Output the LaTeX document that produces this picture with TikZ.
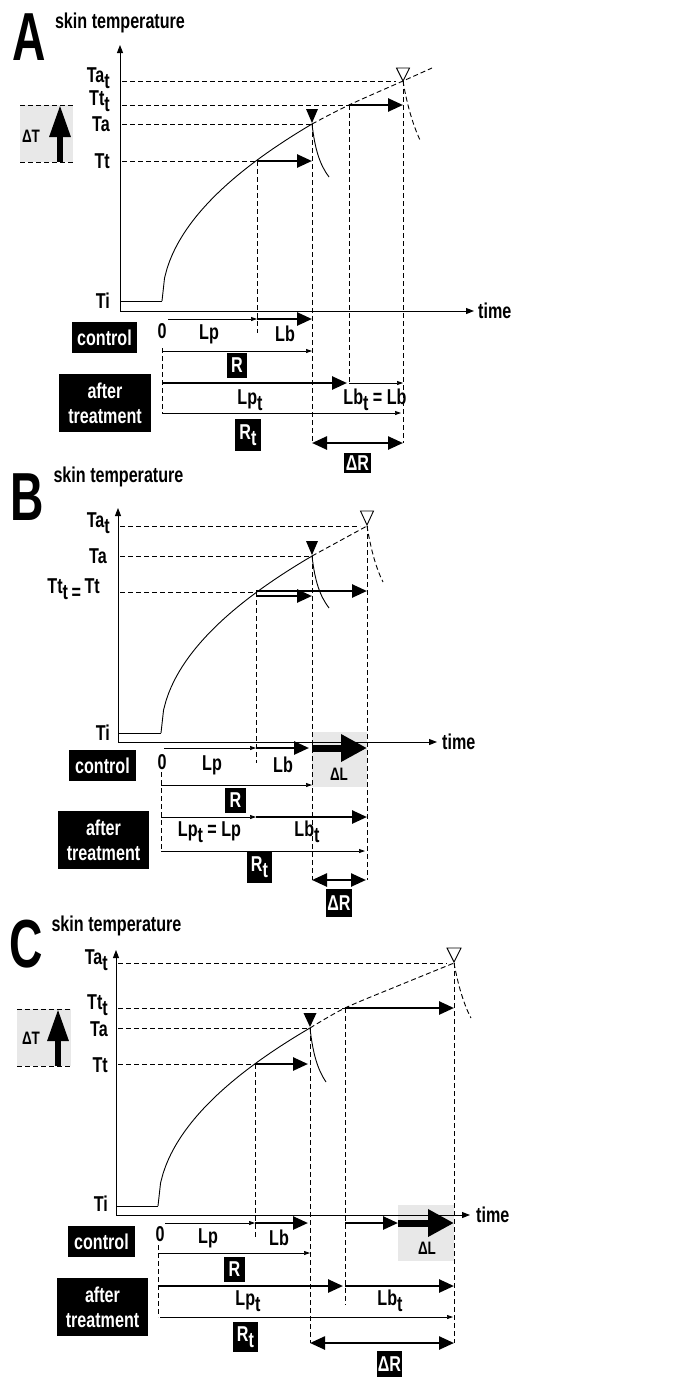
\documentclass[tikz,border=0pt]{standalone}
\usepackage{fontspec}
\setmainfont{Liberation Sans}[FakeStretch=0.75]
\newfontfamily\panelfont{Liberation Sans}[FakeStretch=0.68]
\usetikzlibrary{arrows.meta}
\newcommand{\tsub}{\raisebox{-6pt}{t}}
\newcommand{\labsize}{\fontsize{21.5}{25}\selectfont\bfseries}

\begin{document}
\begin{tikzpicture}[
  x=1pt, y=-1pt,
  lab/.style={font=\labsize, inner sep=0pt},
  small/.style={font=\fontsize{18}{20}\selectfont\bfseries, inner sep=0pt},
  panel/.style={font=\panelfont\fontsize{68}{68}\selectfont\bfseries, inner sep=0pt},
  blackbox/.style={fill=black, text=white, font=\labsize, align=center, inner sep=0pt},
  greybox/.style={fill=black!9},
  guide/.style={line width=0.9pt, dash pattern=on 5pt off 3pt},
  axis/.style={line width=1pt, {Triangle[length=8pt,width=6pt]}-{Triangle[length=8pt,width=6pt]}},
  curve/.style={line width=0.9pt},
  thinarr/.style={line width=0.7pt, -{Triangle[length=6pt,width=4pt]}},
  boldarr/.style={line width=2.6pt, -{Triangle[length=15pt,width=13pt]}},
  bigarr/.style={line width=7pt, -{Triangle[length=26pt,width=26pt]}},
  uparr/.style={line width=6pt, -{Triangle[length=32pt,width=20pt]}},
  dblarr/.style={line width=2.5pt, {Triangle[length=15pt,width=13pt]}-{Triangle[length=15pt,width=13pt]}},
  opentip/.style={fill=white, draw=black, line width=0.9pt}
]
\useasboundingbox (0,0) rectangle (682,1377);

% ---------------- panel A ----------------
\fill[greybox] (20,105) rectangle (73,162);
\node[panel] (letA) at (29.5,37.5) {A};
\node[lab] (skinA) at (120,23) {skin temperature};
\draw[axis] (120,45) -- (120,311) -- (474,311);
\node[lab, anchor=west] (timeA) at (478,311) {time};
\node[lab, anchor=base east] (TatA) at (110,82) {Ta\tsub};
\node[lab, anchor=base east] (TttA) at (110,105) {Tt\tsub};
\node[lab, anchor=east] (TaA) at (110,124) {Ta};
\node[lab, anchor=east] (TtA) at (110,161) {Tt};
\node[lab, anchor=east] (TiA) at (110,301) {Ti};
% delta T
\draw[guide] (20,105) -- (73,105) (20,162) -- (73,162);
\draw[uparr] (60,162) -- (60,105);
\node[small] (dTA) at (31,136) {ΔT};
% curve
\draw[curve] (120,301) -- (162,301);
\draw[curve] plot[domain=0:150, samples=60] ({162+\x},{301-14.45*sqrt(\x)});
\draw[curve, guide] plot[smooth] coordinates {(312,124) (349,105) (403,81) (432,68)};
\draw[curve] (312,124) .. controls (315,150) and (320,165) .. (329,177);
\draw[curve, guide] (403,81) .. controls (407,105) and (413,125) .. (420,140);
\fill (312,123) -- (306,109) -- (318,109) -- cycle;
\draw[opentip] (403,81) -- (396.5,68) -- (409.5,68) -- cycle;
% guides
\draw[guide] (122,81) -- (396,81);
\draw[guide] (122,105) -- (349,105);
\draw[guide] (122,124) -- (312,124);
\draw[guide] (122,161) -- (257,161);
\draw[guide] (257,161) -- (257,333);
\draw[guide] (312,124) -- (312,443);
\draw[guide] (349,105) -- (349,383);
\draw[guide] (403,81) -- (403,443);
\draw[guide] (162,348) -- (162,413);
\draw[boldarr] (257,161) -- (312,161);
\draw[boldarr] (349,105) -- (403,105);
% control
\node[blackbox, minimum width=65pt, minimum height=31pt] (ctrlA) at (104.5,337.5) {control};
\node[lab] (zeroA) at (162,331) {0};
\draw[thinarr] (168,319) -- (257,319);
\draw[boldarr] (257,319) -- (312,319);
\node[lab] (LpA) at (209,334) {Lp};
\node[lab] (LbA) at (285,334) {Lb};
\draw[thinarr] (162,351) -- (312,351);
\node[blackbox, minimum width=20pt, minimum height=25pt] (RA) at (237,365.5) {R};
% after treatment
\node[blackbox, minimum width=92pt, minimum height=58pt] (afterA) at (105,403) {after\\treatment};
\draw[boldarr] (162,383) -- (347,383);
\draw[thinarr] (349,383) -- (403,383);
\node[lab] (LptA) at (250,400) {Lp\tsub};
\node[lab] (LbtA) at (375,400) {Lb\tsub{} = Lb};
\draw[thinarr] (162,413) -- (401,413);
\node[blackbox, minimum width=26pt, minimum height=32pt] (RtA) at (248,435) {R\tsub};
\draw[dblarr] (312,443) -- (403,443);
\node[blackbox, minimum width=27pt, minimum height=20pt] (dRA) at (357.5,463) {ΔR};

% ---------------- panel B ----------------
\fill[greybox] (312,732) rectangle (367,787);
\node[panel] (letB) at (27.5,497.5) {B};
\node[lab] (skinB) at (118.5,477) {skin temperature};
\draw[axis] (118,508) -- (118,742) -- (437,742);
\node[lab, anchor=west] (timeB) at (442,742) {time};
\node[lab, anchor=base east] (TatB) at (110,527) {Ta\tsub};
\node[lab, anchor=east] (TaB) at (107,556) {Ta};
\node[lab, anchor=base east] (TttB) at (100,593) {Tt\raisebox{-6pt}{t\,=}\,Tt};
\node[lab, anchor=east] (TiB) at (110,733) {Ti};
% curve
\draw[curve] (118,733) -- (161,733);
\draw[curve] plot[domain=0:151, samples=60] ({161+\x},{733-14.4*sqrt(\x)});
\draw[curve, guide] (312,556) -- (367,526);
\draw[curve] (312,556) .. controls (315,582) and (320,596) .. (329,608);
\draw[curve, guide] (367,526) .. controls (371,550) and (376,568) .. (383,582);
\fill (312,555) -- (306,541) -- (318,541) -- cycle;
\draw[opentip] (367,525) -- (360.5,511) -- (373.5,511) -- cycle;
% guides
\draw[guide] (120,526) -- (360,526);
\draw[guide] (120,556) -- (312,556);
\draw[guide] (120,592) -- (256,592);
\draw[guide] (256,592) -- (256,763);
\draw[guide] (312,556) -- (312,880);
\draw[guide] (367,526) -- (367,880);
\draw[guide] (161,772) -- (161,851);
\draw[boldarr] (256,596) -- (312,596);
\draw[boldarr] (256,591) -- (367,591);
% control
\node[blackbox, minimum width=67pt, minimum height=31pt] (ctrlB) at (102.5,765.5) {control};
\node[lab] (zeroB) at (162,762) {0};
\draw[thinarr] (164,748) -- (256,748);
\draw[boldarr] (256,748) -- (309,748);
\draw[bigarr] (312,748) -- (367,748);
\node[small] (dLB) at (339,774) {ΔL};
\node[lab] (LpB) at (212,765) {Lp};
\node[lab] (LbB) at (283,765) {Lb};
\draw[thinarr] (161,785) -- (312,785);
\node[blackbox, minimum width=21pt, minimum height=25pt] (RB) at (235.5,800.5) {R};
% after treatment
\node[blackbox, minimum width=91pt, minimum height=58pt] (afterB) at (103.5,840) {after\\treatment};
\draw[thinarr] (161,817) -- (256,817);
\draw[boldarr] (256,817) -- (367,817);
\node[lab] (LptB) at (209.5,832) {Lp\tsub{} = Lp};
\node[lab] (LbtB) at (307,832) {Lb\tsub};
\draw[thinarr] (161,851) -- (365,851);
\node[blackbox, minimum width=25pt, minimum height=31pt] (RtB) at (259.5,867.5) {R\tsub};
\draw[dblarr] (312,880) -- (366,880);
\node[blackbox, minimum width=26pt, minimum height=28pt] (dRB) at (339,903) {ΔR};

% ---------------- panel C ----------------
\fill[greybox] (17,1009) rectangle (71,1066);
\fill[greybox] (398,1205) rectangle (454,1261);
\node[panel] (letC) at (26.5,944) {C};
\node[lab] (skinC) at (116.5,926) {skin temperature};
\draw[axis] (116,950) -- (116,1215) -- (470,1215);
\node[lab, anchor=west] (timeC) at (476,1215) {time};
\node[lab, anchor=base east] (TatC) at (108,964) {Ta\tsub};
\node[lab, anchor=base east] (TttC) at (108,1009) {Tt\tsub};
\node[lab, anchor=east] (TaC) at (108,1029) {Ta};
\node[lab, anchor=east] (TtC) at (108,1065) {Tt};
\node[lab, anchor=east] (TiC) at (108,1204) {Ti};
% delta T
\draw[guide] (17,1009) -- (71,1009) (17,1066) -- (71,1066);
\draw[uparr] (58,1066) -- (58,1009);
\node[small] (dTC) at (31,1038) {ΔT};
% curve
\draw[curve] (116,1206) -- (158,1206);
\draw[curve] plot[domain=0:152, samples=60] ({158+\x},{1206-14.44*sqrt(\x)});
\draw[curve, guide] plot[smooth] coordinates {(310,1028) (345,1008) (400,985) (454,963)};
\draw[curve] (310,1028) .. controls (313,1055) and (318,1070) .. (326,1082);
\draw[curve, guide] (454,963) .. controls (458,985) and (464,1005) .. (471,1018);
\fill (310,1027) -- (303.5,1013) -- (316.5,1013) -- cycle;
\draw[opentip] (454,962) -- (447,948) -- (461,948) -- cycle;
% guides
\draw[guide] (118,963) -- (447,963);
\draw[guide] (118,1008) -- (345,1008);
\draw[guide] (118,1028) -- (310,1028);
\draw[guide] (118,1064) -- (255,1064);
\draw[guide] (255,1064) -- (255,1237);
\draw[guide] (310,1028) -- (310,1343);
\draw[guide] (345,1008) -- (345,1305);
\draw[guide] (454,963) -- (454,1343);
\draw[guide] (158,1245) -- (158,1317);
\draw[boldarr] (345,1008) -- (454,1008);
\draw[boldarr] (255,1064) -- (308,1064);
% control
\node[blackbox, minimum width=67pt, minimum height=31pt] (ctrlC) at (101.5,1241.5) {control};
\node[lab] (zeroC) at (160,1234) {0};
\draw[thinarr] (165,1223) -- (255,1223);
\draw[boldarr] (255,1223) -- (308,1223);
\draw[boldarr] (345,1223) -- (398,1223);
\draw[bigarr] (398,1223) -- (454,1223);
\node[small] (dLC) at (427,1248) {ΔL};
\node[lab] (LpC) at (208,1238) {Lp};
\node[lab] (LbC) at (279,1238) {Lb};
\draw[thinarr] (158,1253) -- (310,1253);
\node[blackbox, minimum width=21pt, minimum height=25pt] (RC) at (234.5,1269.5) {R};
% after treatment
\node[blackbox, minimum width=91pt, minimum height=58pt] (afterC) at (102.5,1307) {after\\treatment};
\draw[boldarr] (158,1286) -- (343,1286);
\draw[boldarr] (345,1286) -- (454,1286);
\node[lab] (LptC) at (248,1301) {Lp\tsub};
\node[lab] (LbtC) at (390,1301) {Lb\tsub};
\draw[thinarr] (160,1317) -- (453,1317);
\node[blackbox, minimum width=25pt, minimum height=30pt] (RtC) at (245.5,1337) {R\tsub};
\draw[dblarr] (310,1343) -- (454,1343);
\node[blackbox, minimum width=25pt, minimum height=27pt] (dRC) at (389.5,1364) {ΔR};
\end{tikzpicture}
\end{document}
